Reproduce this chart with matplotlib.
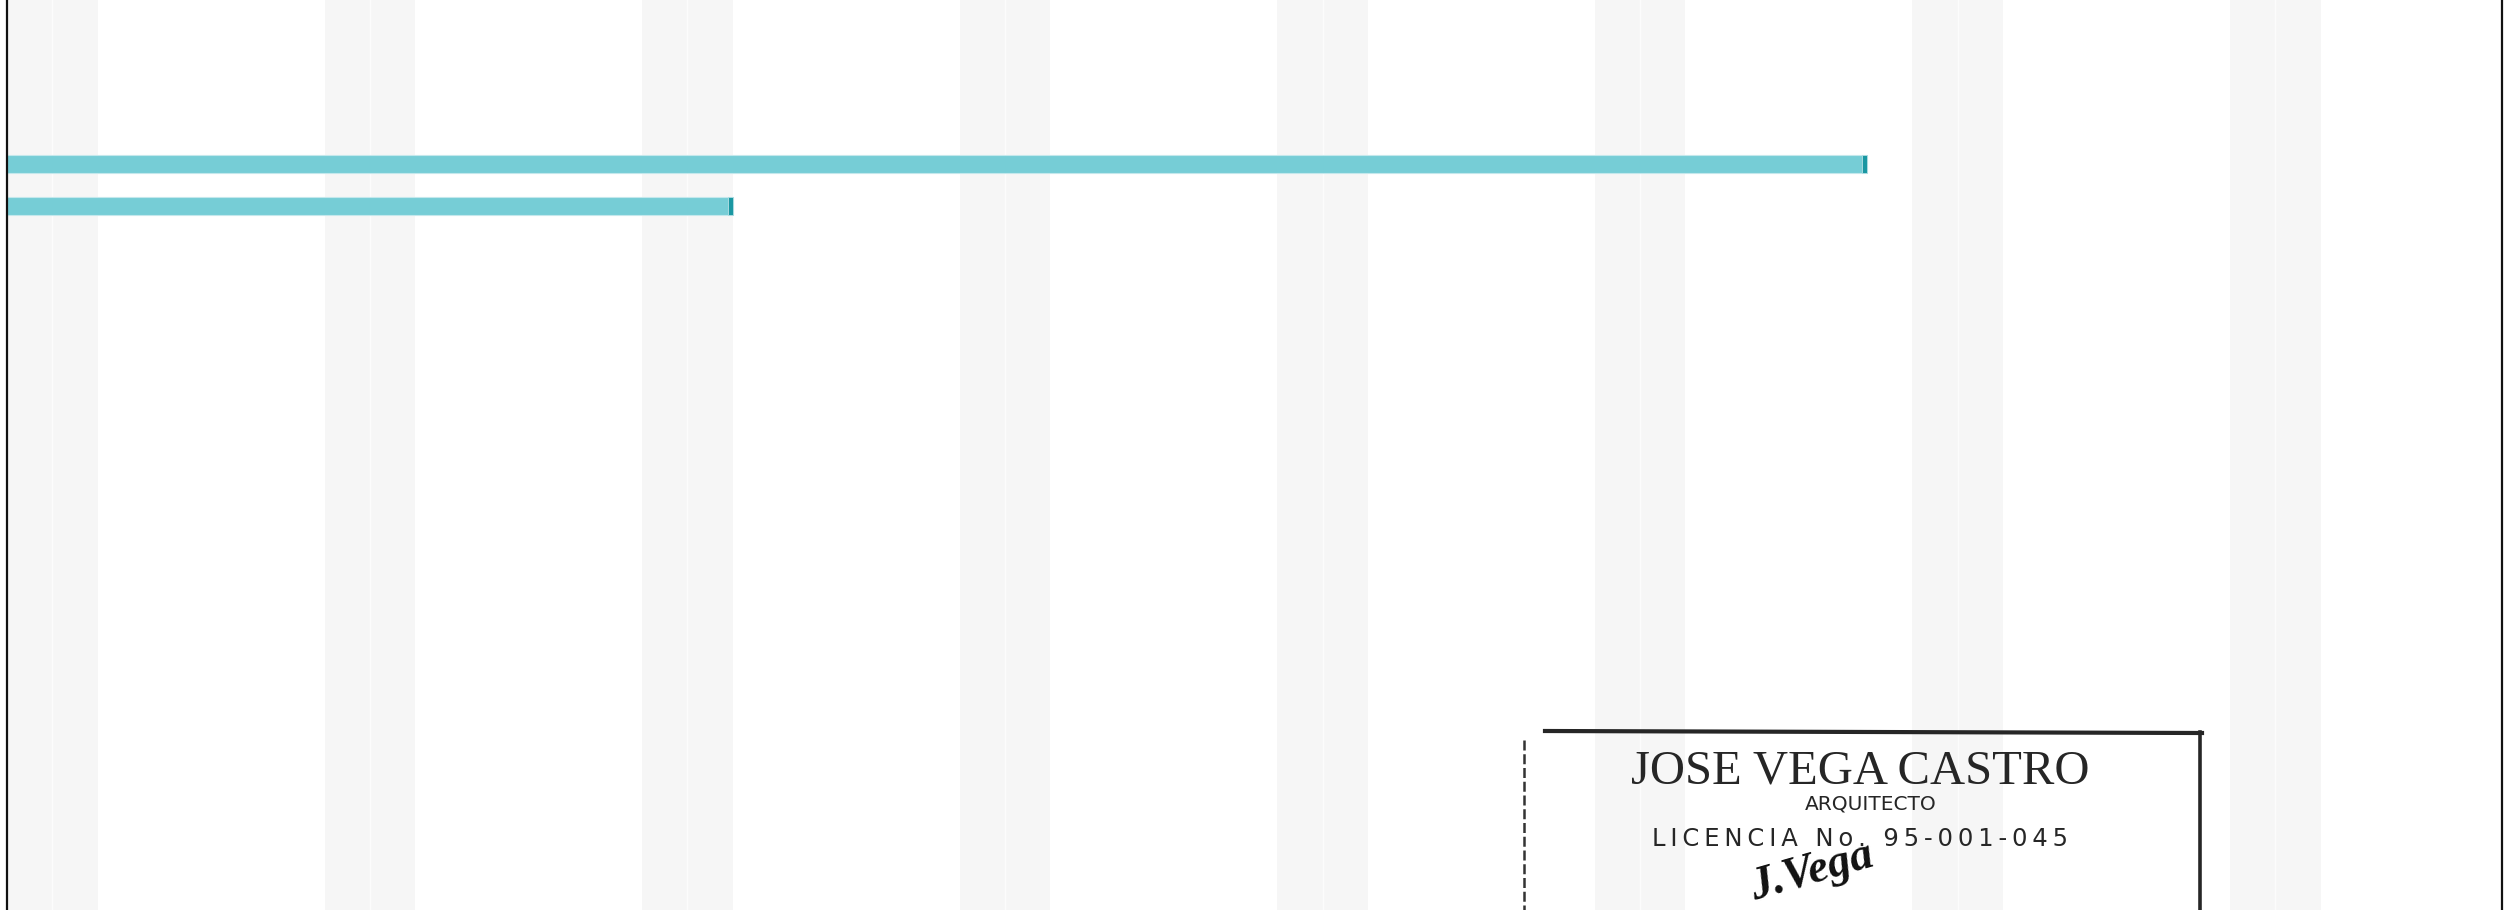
import numpy as np
import matplotlib
matplotlib.use("Agg")
from matplotlib import pyplot as plt
from matplotlib.lines import Line2D

# Gantt data (days from the first visible day, which is a Saturday)
tasks = ["Tarea 1", "Tarea 2"]
task_start = [0, 0]
task_days = [41, 16]
n_days = 55
first_weekday = 5  # 5 = Saturday

bar_color = "#76cdd6"
cap_color = "#1a97a2"
weekend_color = "#f6f6f6"

W, H, DPI = 2504, 910, 100
fig = plt.figure(figsize=(W / DPI, H / DPI), dpi=DPI)
fig.patch.set_facecolor("white")

ax = fig.add_axes([7 / W, 0, (2502 - 7) / W, 1])
ax.set_xlim(0, n_days)
# row spacing of 42 px, first row centred 164 px from the top
row_px = 42.0
top = -164 / row_px
ax.set_ylim(top + H / row_px, top)

# weekend stripes
for d in range(n_days):
    wd = (first_weekday + d) % 7
    if wd in (5, 6):
        ax.axvspan(d, d + 1, color=weekend_color, lw=0, zorder=0)
        if wd == 6:
            ax.axvline(d, color="#fcfcfc", lw=1, zorder=0.5)

# bars with dark end cap
px_day = (2502 - 7) / n_days
cap_w = 5 / px_day
rows = np.arange(len(tasks))
ax.barh(rows, task_days, left=task_start, height=18 / row_px,
        color=bar_color, edgecolor="#c4e8ec", linewidth=0.8, zorder=2)
ends = np.array(task_start) + np.array(task_days)
ax.barh(rows, [cap_w] * len(tasks), left=ends - cap_w, height=18 / row_px,
        color=cap_color, edgecolor="#b6e0e5", linewidth=0.6, zorder=3)

for s in ["top", "bottom"]:
    ax.spines[s].set_visible(False)
for s in ["left", "right"]:
    ax.spines[s].set_linewidth(1.6)
    ax.spines[s].set_color("#111111")
ax.set_xticks([])
ax.set_yticks([])


# stamp in lower right (figure pixel coords)
def fx(x):
    return x / W


def fy(y):
    return 1 - y / H


ink = "#262626"
fig.add_artist(Line2D([fx(1545), fx(2202)], [fy(731), fy(733)], color=ink, lw=3))
fig.add_artist(Line2D([fx(2200), fx(2200)], [fy(732), fy(912)], color=ink, lw=2.6))
fig.add_artist(Line2D([fx(1524), fx(1524)], [fy(740), fy(912)], color="#333333",
                      lw=1.8, ls=(0, (4, 1.5))))

fig.text(fx(1860), fy(772), "JOSE VEGA CASTRO", ha="center", va="center",
         family="Liberation Serif", fontsize=35, color=ink)
fig.text(fx(1871), fy(804), "ARQUITECTO", ha="center", va="center",
         family="DejaVu Sans", fontsize=14.5, color=ink)
fig.text(fx(1860), fy(839), "\u2009".join("LICENCIA No. 95-001-045"),
         ha="center", va="center",
         family="DejaVu Sans", fontsize=17.5, color=ink)
fig.text(fx(1812), fy(872), "J.Vega", ha="center", va="center", rotation=16,
         family="Liberation Serif", style="italic", weight="bold",
         fontsize=33, color="#111111")

fig.savefig("out.png", dpi=DPI, facecolor="white")
